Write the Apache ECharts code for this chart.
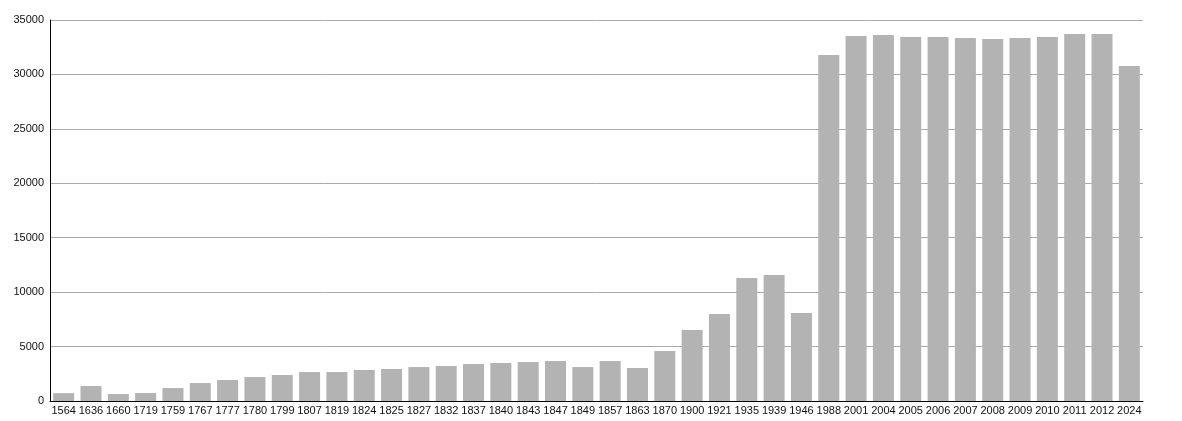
<!DOCTYPE html>
<html>
<head>
<meta charset="utf-8">
<script src="https://cdn.jsdelivr.net/npm/echarts@6/dist/echarts.min.js"></script>
<style>html,body{margin:0;padding:0;background:#fff;}#c{width:1182px;height:421px;}</style>
</head>
<body>
<div id="c"></div>
<script>
const categories = ['1564','1636','1660','1719','1759','1767','1777','1780','1799','1807','1819','1824','1825','1827','1832','1837','1840','1843','1847','1849','1857','1863','1870','1900','1921','1935','1939','1946','1988','2001','2004','2005','2006','2007','2008','2009','2010','2011','2012','2024'];
const population = [720,1380,640,730,1190,1650,1930,2200,2390,2660,2660,2850,2940,3120,3215,3400,3490,3580,3670,3120,3670,3030,4590,6520,7990,11300,11575,8085,31785,33530,33620,33440,33440,33345,33255,33345,33440,33710,33710,30775];
const yTicks = {min: 0, max: 35000, interval: 5000};

const chart = echarts.init(document.getElementById('c'));
chart.setOption({
  animation: false,
  grid: {left: 50, right: 39, top: 20, bottom: 20, containLabel: false},
  xAxis: {
    type: 'category',
    data: categories,
    axisLine: {lineStyle: {color: '#000', width: 1}},
    axisTick: {show: false},
    axisLabel: {color: '#111', fontSize: 11, fontFamily: 'Liberation Sans, Arial, sans-serif', margin: 4, interval: 0}
  },
  yAxis: {
    type: 'value',
    min: yTicks.min, max: yTicks.max, interval: yTicks.interval,
    axisLine: {show: true, lineStyle: {color: '#000', width: 1}},
    axisTick: {show: false},
    axisLabel: {color: '#111', fontSize: 11, fontFamily: 'Liberation Sans, Arial, sans-serif', margin: 6, formatter: v => String(v)},
    splitLine: {lineStyle: {color: '#aaaaaa', width: 1}}
  },
  series: [{
    type: 'bar',
    data: population,
    barWidth: 21,
    itemStyle: {color: '#b3b3b3'}
  }]
});
</script>
</body>
</html>
